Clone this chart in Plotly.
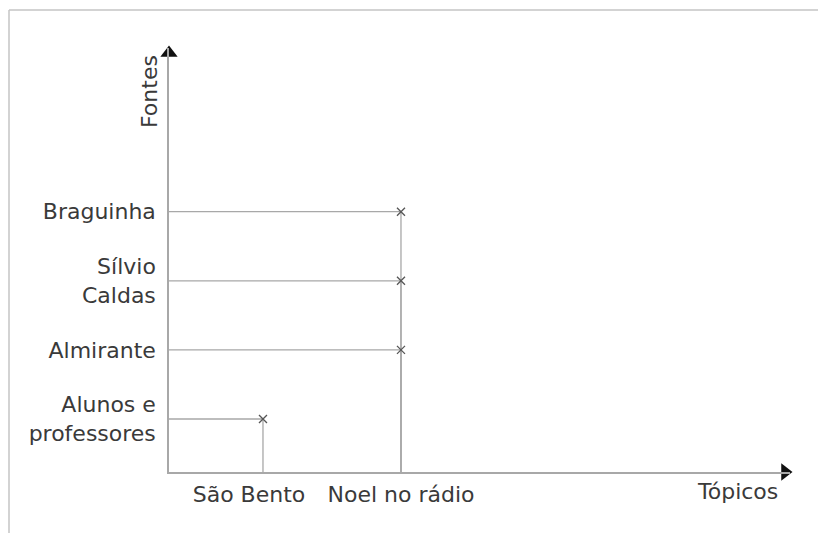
import plotly.graph_objects as go

# ---- data ----
topics = ["São Bento", "Noel no rádio"]
sources = ["Alunos e<br>professores", "Almirante", "Sílvio<br>Caldas", "Braguinha"]
# (source, topic) pairs marked with an "x"
point_sources = ["Alunos e<br>professores", "Almirante", "Sílvio<br>Caldas", "Braguinha"]
point_topics = ["São Bento", "Noel no rádio", "Noel no rádio", "Noel no rádio"]
x_title = "Tópicos"
y_title = "Fontes"

# ---- layout geometry (page has an 8px body margin) ----
OFF = 8
W, H = 826 - OFF, 533 - OFF
ML, MR, MT, MB = 169 - OFF, 36, 48 - OFF, 61
PW, PH = W - ML - MR, H - MT - MB

x_idx = {t: i for i, t in enumerate(topics)}
y_idx = {s: i for i, s in enumerate(sources)}
x_range = [-0.681, 3.819]
y_range = [-0.767, 5.369]

FONT = "DejaVu Sans"
FS = 22
TXT = "#3a3a3a"
LINE = "#a8a8a8"

fig = go.Figure()

# guide lines from the axes to each point
for s, t in zip(point_sources, point_topics):
    xi, yi = x_idx[t], y_idx[s]
    fig.add_trace(go.Scatter(
        x=[x_range[0], xi, xi], y=[yi, yi, y_range[0]],
        mode="lines", line=dict(color=LINE, width=1.3),
        hoverinfo="skip", showlegend=False, cliponaxis=False))

# the "x" marks
fig.add_trace(go.Scatter(
    x=[x_idx[t] for t in point_topics], y=[y_idx[s] for s in point_sources],
    mode="markers",
    marker=dict(symbol="x-thin", size=8, line=dict(color="#555555", width=1.3)),
    showlegend=False, hoverinfo="skip"))

# arrow heads at the axis ends
xpx = (x_range[1] - x_range[0]) / PW
ypx = (y_range[1] - y_range[0]) / PH
fig.add_trace(go.Scatter(
    x=[x_range[1] - 5 * xpx], y=[y_range[0]], mode="markers",
    marker=dict(symbol="triangle-right", size=15, color="#111111"),
    showlegend=False, hoverinfo="skip", cliponaxis=False))
fig.add_trace(go.Scatter(
    x=[x_range[0]], y=[y_range[1] - 5 * ypx], mode="markers",
    marker=dict(symbol="triangle-up", size=15, color="#111111"),
    showlegend=False, hoverinfo="skip", cliponaxis=False))

# frame (thin grey border at top and left) -- page pixel coords
def px2paper(px, py):
    px, py = px - OFF, py - OFF
    return (px - ML) / PW, (H - MB - py) / PH

fx0, fy0 = px2paper(9, 10)
fx1, fy1 = px2paper(W + 20, H + 20)
fig.add_shape(type="line", xref="paper", yref="paper", x0=fx0, y0=fy0, x1=fx1, y1=fy0,
              line=dict(color="#c4c4c4", width=1.5))
fig.add_shape(type="line", xref="paper", yref="paper", x0=fx0, y0=fy0, x1=fx0, y1=fy1,
              line=dict(color="#c4c4c4", width=1.5))

# axis titles
ax_, ay_ = px2paper(149, 92)
fig.add_annotation(text=y_title, xref="paper", yref="paper", x=ax_, y=ay_,
                   xanchor="center", yanchor="middle",
                   textangle=-90, showarrow=False, font=dict(size=FS, color=TXT, family=FONT))
tx_, ty_ = px2paper(737, 491)
fig.add_annotation(text=x_title, xref="paper", yref="paper", x=tx_, y=ty_,
                   xanchor="center", yanchor="middle",
                   showarrow=False, font=dict(size=FS, color=TXT, family=FONT))

# São Bento label sits a little left of its mark in the original
x_ticktext = [topics[0] + "&nbsp;" * 4, topics[1]]

fig.update_layout(
    width=W, height=H,
    margin=dict(l=ML, r=MR, t=MT, b=MB, pad=0, autoexpand=False),
    paper_bgcolor="white", plot_bgcolor="white",
    font=dict(family=FONT, size=FS, color=TXT),
    xaxis=dict(range=x_range, tickmode="array", automargin=False, tickangle=0,
               tickvals=list(range(len(topics))), ticktext=x_ticktext,
               showgrid=False, zeroline=False, showline=True, linecolor=LINE, linewidth=1.5,
               ticks="outside", ticklen=2, tickcolor="rgba(0,0,0,0)",
               tickfont=dict(size=FS, color=TXT, family=FONT), fixedrange=True),
    yaxis=dict(range=y_range, tickmode="array", automargin=False,
               tickvals=list(range(len(sources))), ticktext=sources,
               showgrid=False, zeroline=False, showline=True, linecolor=LINE, linewidth=1.5,
               ticks="outside", ticklen=7, tickcolor="rgba(0,0,0,0)",
               tickfont=dict(size=FS, color=TXT, family=FONT), fixedrange=True),
)

fig.write_html("out.html")
